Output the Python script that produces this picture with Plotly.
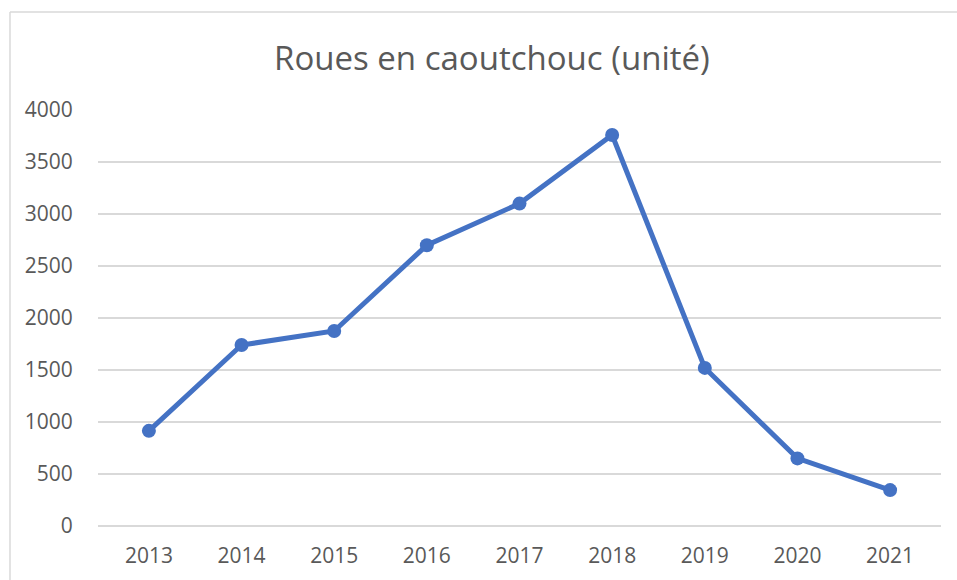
import plotly.graph_objects as go

# values
years = ["2013", "2014", "2015", "2016", "2017", "2018", "2019", "2020", "2021"]
units = [915, 1740, 1875, 2700, 3100, 3760, 1520, 650, 345]
y_ticks = [0, 500, 1000, 1500, 2000, 2500, 3000, 3500, 4000]

LINE_BLUE = "#4472C4"
TEXT_GREY = "#595959"
GRID_GREY = "#d9d9d9"

fig = go.Figure()

fig.add_trace(go.Scatter(
    x=years,
    y=units,
    mode="lines+markers",
    line=dict(color=LINE_BLUE, width=5),
    marker=dict(color=LINE_BLUE, size=14),
    showlegend=False,
    cliponaxis=False,
))

# light frame of the chart area: only its left and top edges are in view
frame = dict(type="line", xref="paper", yref="paper",
             line=dict(color=GRID_GREY, width=1.5), layer="below")
fig.add_shape(x0=-0.1044, x1=-0.1044, y0=-0.4, y1=1.2356, **frame)
fig.add_shape(x0=-0.1044, x1=1.3, y0=1.2356, y1=1.2356, **frame)

fig.update_layout(
    width=957,
    height=580,
    margin=dict(l=98, r=16, t=110, b=54, autoexpand=False),
    paper_bgcolor="white",
    plot_bgcolor="white",
    font=dict(family="Open Sans", color=TEXT_GREY, size=21),
    title=dict(
        text="Roues en caoutchouc (unité)",
        x=0.514, xanchor="center",
        y=0.9, yanchor="middle",
        font=dict(family="Open Sans", size=33, color=TEXT_GREY),
    ),
    xaxis=dict(
        type="category",
        automargin=False,
        showgrid=False,
        showline=False,
        zeroline=False,
        ticks="outside",
        ticklen=11,
        tickcolor="rgba(0,0,0,0)",
        tickfont=dict(size=21, color=TEXT_GREY),
    ),
    yaxis=dict(
        range=[0, 4000],
        tickvals=y_ticks,
        automargin=False,
        showgrid=True,
        gridcolor=GRID_GREY,
        gridwidth=1.5,
        zeroline=True,
        zerolinecolor=GRID_GREY,
        zerolinewidth=1.5,
        showline=False,
        ticks="outside",
        ticklen=20,
        tickcolor="rgba(0,0,0,0)",
        tickfont=dict(size=21, color=TEXT_GREY),
    ),
)

# drop the default page margin so the figure fills the window exactly
fig.write_html(
    "out.html",
    config={"displayModeBar": False},
    post_script="document.body.style.margin='0';document.body.style.overflow='hidden';",
)
